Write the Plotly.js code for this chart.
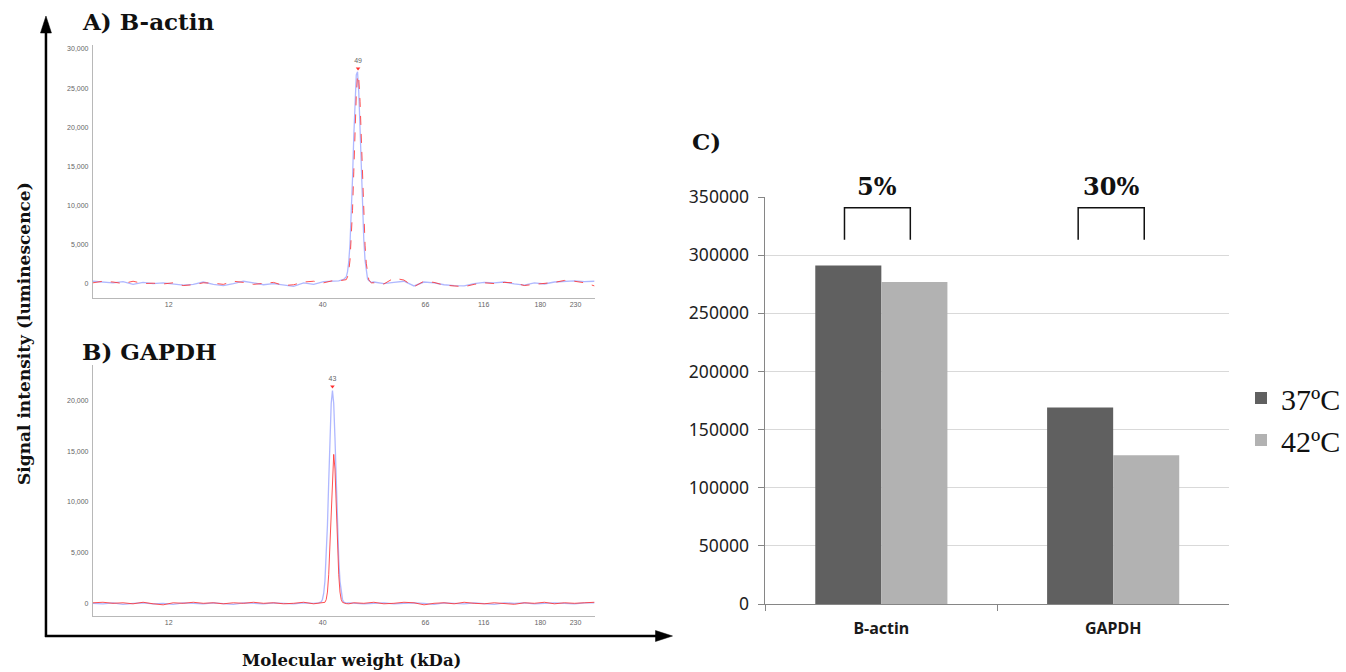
<!DOCTYPE html>
<html>
<head>
<meta charset="utf-8">
<script src="https://cdn.plot.ly/plotly-3.0.1.min.js"></script>
<style>html,body{margin:0;padding:0;background:#fff;}#chart{width:1346px;height:672px;}</style>
</head>
<body>
<div id="chart"></div>
<script>
// ---------- Data ----------
// Ladder (molecular weight markers, kDa) and their migration positions (% of run)
const ladderKDa = ['12', '40', '66', '116', '180', '230'];
const ladderPos = [15.1, 45.8, 66.3, 77.9, 89.2, 96.2];

// Panel A: B-actin electropherogram (migration position %, luminescence)
const actinPos = [0,2,4,6,8,10,12,14,16,18,20,22,24,26,28,30,32,34,36,38,40,42,44,46,48,49,50,
  50.5,50.75,51,51.25,51.5,51.75,52,52.25,52.5,52.75,53,53.25,53.5,53.75,54,54.25,54.5,54.75,55,55.25,55.5,
  56,57,58,60,62,64,66,68,70,72,74,76,78,80,82,84,86,88,90,92,94,96,98,100];
const actin37 = [300,200,100,250,-100,150,0,100,-50,-200,-100,200,-100,-250,0,300,100,-150,0,-200,-350,100,-100,250,300,350,550,
  850,1500,2800,5100,8630,13450,18800,23600,26700,27100,24400,19860,14500,9520,5600,2960,1400,600,400,200,150,
  200,100,0,150,300,-300,200,100,-150,-250,-300,0,150,100,200,-50,-200,100,-50,200,300,350,250,300];
const actin42 = [100,300,200,0,300,0,50,-50,100,-250,-150,100,50,-100,300,150,-100,0,150,-250,-150,200,300,100,400,350,450,
  500,850,1600,3000,5530,9370,14280,19570,24030,26700,26190,23260,18530,13240,8490,4910,2540,1170,480,250,100,
  100,50,-50,700,450,-400,300,150,-200,-300,-400,-100,100,0,150,100,-250,-100,0,150,400,300,100,-300];
const actinPeakPos = [52.85];
const actinPeakVal = [27500];
const actinPeakLabel = ['49'];

// Panel B: GAPDH electropherogram
const gapdhPos = [0,2,4,6,8,10,12,14,16,18,20,22,24,26,28,30,32,34,36,38,40,42,44,45,45.5,
  45.75,46,46.25,46.5,46.75,47,47.25,47.5,47.75,48,48.25,48.5,48.75,49,49.25,49.5,49.75,50,50.25,50.5,
  51,52,54,56,58,60,62,64,66,68,70,72,74,76,78,80,82,84,86,88,90,92,94,96,98,100];
const gapdh37 = [0,-50,50,-100,0,50,-50,0,-100,50,0,-50,50,0,-100,50,0,-50,50,0,-50,50,0,50,130,
  380,970,2190,4360,7680,11920,16320,19720,21000,19720,16320,11920,7680,4360,2190,970,380,130,40,10,
  50,0,-50,0,50,-50,0,50,0,-100,50,0,-50,50,0,-100,50,0,50,-50,0,50,0,-50,50,50];
const gapdh42 = [50,100,0,50,-50,100,-50,-150,50,0,100,0,50,-50,50,0,100,0,50,-50,0,100,-50,0,30,
  10,20,95,360,1110,2820,5810,9730,13260,14700,13260,9730,5810,2820,1110,360,95,20,0,-30,
  -50,50,0,100,-50,0,100,50,-150,0,50,-50,100,0,-50,50,0,-100,50,0,100,-50,50,0,50,100];
const gapdhPeakPos = [47.75];
const gapdhPeakVal = [21400];
const gapdhPeakLabel = ['43'];

// Panel C: total signal
const proteins = ['B-actin', 'GAPDH'];
const temps = ['37ºC', '42ºC'];
const signal37 = [291000, 169000];
const signal42 = [277000, 128000];
const decreaseLabels = ['5%', '30%'];

// ---------- Helpers ----------
const W = 1346, H = 672;
const fx = p => p / W;
const fy = p => 1 - p / H;

const blueLine = 'rgba(110,125,255,0.55)';
const redLine = 'rgba(255,50,50,0.85)';
const smallTick = {family: 'Liberation Sans, Arial, sans-serif', size: 7, color: '#666666'};
const serifBold = 'DejaVu Serif, serif';

const traces = [
  {x: actinPos, y: actin37, xaxis: 'x', yaxis: 'y', type: 'scatter', mode: 'lines', line: {color: blueLine, width: 1.3}, showlegend: false, hoverinfo: 'skip'},
  {x: actinPos, y: actin42, xaxis: 'x', yaxis: 'y', type: 'scatter', mode: 'lines', line: {color: redLine, width: 1, dash: 'dash'}, showlegend: false, hoverinfo: 'skip'},
  {x: actinPeakPos, y: actinPeakVal, text: actinPeakLabel, xaxis: 'x', yaxis: 'y', type: 'scatter', mode: 'markers+text', textposition: 'top center', textfont: smallTick, marker: {symbol: 'triangle-down', size: 4, color: '#ff3030'}, showlegend: false, hoverinfo: 'skip', cliponaxis: false},
  {x: gapdhPos, y: gapdh37, xaxis: 'x2', yaxis: 'y2', type: 'scatter', mode: 'lines', line: {color: blueLine, width: 1.3}, showlegend: false, hoverinfo: 'skip'},
  {x: gapdhPos, y: gapdh42, xaxis: 'x2', yaxis: 'y2', type: 'scatter', mode: 'lines', line: {color: redLine, width: 1}, showlegend: false, hoverinfo: 'skip'},
  {x: gapdhPeakPos, y: gapdhPeakVal, text: gapdhPeakLabel, xaxis: 'x2', yaxis: 'y2', type: 'scatter', mode: 'markers+text', textposition: 'top center', textfont: smallTick, marker: {symbol: 'triangle-down', size: 4, color: '#ff3030'}, showlegend: false, hoverinfo: 'skip', cliponaxis: false},
  {x: proteins, y: signal37, name: temps[0], xaxis: 'x3', yaxis: 'y3', type: 'bar', marker: {color: '#606060'}},
  {x: proteins, y: signal42, name: temps[1], xaxis: 'x3', yaxis: 'y3', type: 'bar', marker: {color: '#b2b2b2'}}
];

const elecX = (dom, anchor) => ({
  domain: dom, anchor: anchor, range: [0, 100], showline: true, linecolor: '#b8b8b8', linewidth: 1,
  showgrid: false, zeroline: false, ticks: '', tickmode: 'array', tickvals: ladderPos, ticktext: ladderKDa,
  tickfont: smallTick, ticklabelstandoff: 0, fixedrange: true
});
const elecY = (dom, anchor, range, vals) => ({
  domain: dom, anchor: anchor, range: range, showline: true, linecolor: '#b8b8b8', linewidth: 1,
  showgrid: false, zeroline: false, ticks: '', tickmode: 'array', tickvals: vals, tickformat: ',',
  tickfont: smallTick, ticklabelstandoff: 2, fixedrange: true
});

const layout = {
  width: W, height: H,
  margin: {l: 0, r: 0, t: 0, b: 0},
  paper_bgcolor: '#ffffff', plot_bgcolor: 'rgba(0,0,0,0)',
  barmode: 'group', bargap: 0.43, bargroupgap: 0,
  xaxis: elecX([fx(93), fx(595)], 'y'),
  yaxis: elecY([fy(298), fy(45)], 'x', [-1844, 30512], [0, 5000, 10000, 15000, 20000, 25000, 30000]),
  xaxis2: elecX([fx(93), fx(595)], 'y2'),
  yaxis2: elecY([fy(616), fy(365)], 'x2', [-1254, 23524], [0, 5000, 10000, 15000, 20000]),
  xaxis3: {
    domain: [fx(766), fx(1230)], anchor: 'y3', type: 'category', showline: true, linecolor: '#868686', linewidth: 1,
    ticks: 'outside', ticklen: 6, tickcolor: '#868686', tickson: 'boundaries', showgrid: false,
    tickfont: {family: 'Noto Sans, Open Sans, sans-serif', size: 16, color: '#1a1a1a', weight: 'bold'}, ticklabelstandoff: 10
  },
  yaxis3: {
    domain: [fy(604), fy(197)], anchor: 'x3', range: [0, 350000], showline: true, linecolor: '#868686', linewidth: 1,
    ticks: 'outside', ticklen: 6, tickcolor: '#868686', dtick: 50000, tickformat: 'd',
    showgrid: true, gridcolor: '#d9d9d9', gridwidth: 1, zeroline: false,
    tickfont: {family: 'Noto Sans, Open Sans, sans-serif', size: 17.5, color: '#222'}, ticklabelstandoff: 6
  },
  legend: {
    x: fx(1242), y: fy(372), xanchor: 'left', yanchor: 'top', bgcolor: 'rgba(0,0,0,0)',
    font: {family: 'Liberation Serif, Times New Roman, serif', size: 30, color: '#111'},
    itemwidth: 30, tracegroupgap: 0
  },
  annotations: [
    {text: '<b>A) B-actin</b>', xref: 'paper', yref: 'paper', x: fx(80), y: fy(21), xanchor: 'left', yanchor: 'middle', showarrow: false, font: {family: serifBold, size: 23, color: '#111'}},
    {text: '<b>B) GAPDH</b>', xref: 'paper', yref: 'paper', x: fx(80), y: fy(351), xanchor: 'left', yanchor: 'middle', showarrow: false, font: {family: serifBold, size: 23, color: '#111'}},
    {text: '<b>C)</b>', xref: 'paper', yref: 'paper', x: fx(691), y: fy(141), xanchor: 'left', yanchor: 'middle', showarrow: false, font: {family: serifBold, size: 23, color: '#111'}},
    {text: '<b>' + decreaseLabels[0] + '</b>', xref: 'x3', yref: 'paper', x: -0.017, y: fy(186), xanchor: 'center', yanchor: 'middle', showarrow: false, font: {family: serifBold, size: 24, color: '#111'}},
    {text: '<b>' + decreaseLabels[1] + '</b>', xref: 'x3', yref: 'paper', x: 0.992, y: fy(186), xanchor: 'center', yanchor: 'middle', showarrow: false, font: {family: serifBold, size: 24, color: '#111'}},
    {text: '<b>Signal intensity (luminescence)</b>', xref: 'paper', yref: 'paper', x: fx(24), y: fy(333), xanchor: 'center', yanchor: 'middle', textangle: -90, showarrow: false, font: {family: serifBold, size: 17, color: '#111'}},
    {text: '<b>Molecular weight (kDa)</b>', xref: 'paper', yref: 'paper', x: fx(352), y: fy(660), xanchor: 'center', yanchor: 'middle', showarrow: false, font: {family: serifBold, size: 16.5, color: '#111'}}
  ],
  shapes: [
    // axis arrows
    {type: 'line', xref: 'paper', yref: 'paper', x0: fx(46), y0: fy(637), x1: fx(46), y1: fy(30), line: {color: '#000', width: 2.5}},
    {type: 'path', xref: 'paper', yref: 'paper', path: `M ${fx(46)} ${fy(16)} L ${fx(40.5)} ${fy(33)} L ${fx(51.5)} ${fy(33)} Z`, fillcolor: '#000', line: {color: '#000', width: 0.5}},
    {type: 'line', xref: 'paper', yref: 'paper', x0: fx(45), y0: fy(636), x1: fx(660), y1: fy(636), line: {color: '#000', width: 2.5}},
    {type: 'path', xref: 'paper', yref: 'paper', path: `M ${fx(673)} ${fy(636)} L ${fx(656)} ${fy(630.5)} L ${fx(656)} ${fy(641.5)} Z`, fillcolor: '#000', line: {color: '#000', width: 0.5}},
    // brackets over bar pairs
    {type: 'path', xref: 'x3', yref: 'y3', path: 'M -0.159 313300 L -0.159 340800 L 0.125 340800 L 0.125 313300', line: {color: '#111', width: 1.5}},
    {type: 'path', xref: 'x3', yref: 'y3', path: 'M 0.849 313300 L 0.849 340800 L 1.134 340800 L 1.134 313300', line: {color: '#111', width: 1.5}}
  ]
};

Plotly.newPlot('chart', traces, layout, {staticPlot: true, displayModeBar: false});
</script>
</body>
</html>
